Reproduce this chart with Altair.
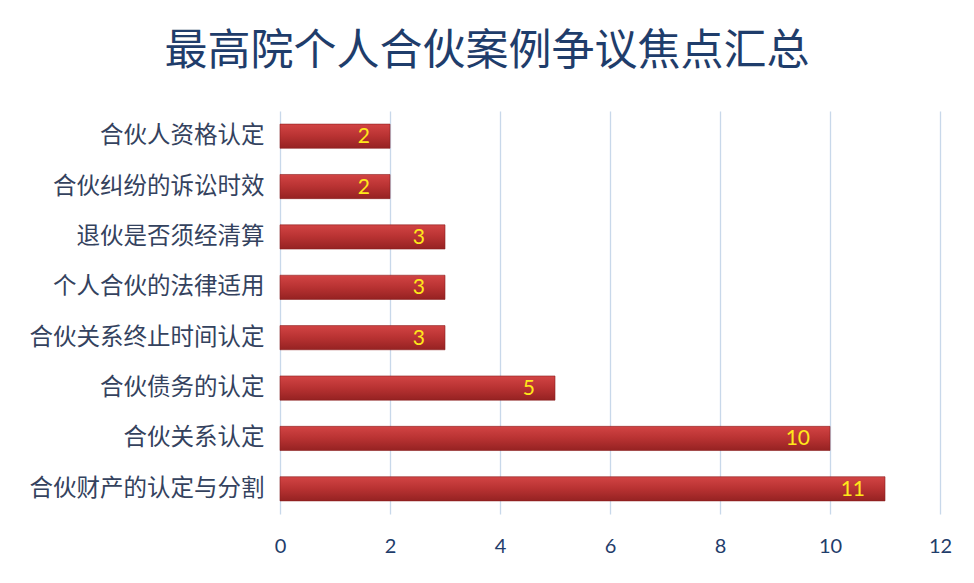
import altair as alt
import pandas as pd

categories = ["合伙人资格认定", "合伙纠纷的诉讼时效", "退伙是否须经清算", "个人合伙的法律适用",
              "合伙关系终止时间认定", "合伙债务的认定", "合伙关系认定", "合伙财产的认定与分割"]
values = [2, 2, 3, 3, 3, 5, 10, 11]
x_ticks = [0, 2, 4, 6, 8, 10, 12]
title_text = "最高院个人合伙案例争议焦点汇总"

df = pd.DataFrame({"cat": categories, "val": values})

y_enc = alt.Y("cat:N", sort=categories, title=None,
              scale=alt.Scale(paddingInner=0.52, paddingOuter=0.26),
              axis=alt.Axis(labelFont="Noto Sans CJK SC", labelFontSize=23.5, labelColor="#34425e",
                            labelLimit=0, labelPadding=16, ticks=False, domain=False, grid=False))
x_enc = alt.X("val:Q", title=None, scale=alt.Scale(domain=[0, 12], nice=False),
              axis=alt.Axis(values=x_ticks, format="d", labelFont="Lato", labelFontSize=20,
                            labelColor="#1f3d6b", labelPadding=22, labelFlush=False, ticks=False,
                            domain=False, grid=True, gridColor="#c8d8ea", gridWidth=1.3))

bars = alt.Chart(df).mark_bar(
    color=alt.Gradient(gradient="linear",
                       stops=[alt.GradientStop(color="#d24444", offset=0),
                              alt.GradientStop(color="#b83232", offset=0.5),
                              alt.GradientStop(color="#952222", offset=1)],
                       x1=0, x2=0, y1=0, y2=1),
    stroke="#8a1f1f", strokeWidth=0.6
).encode(x=x_enc, y=y_enc)

labels = alt.Chart(df).mark_text(
    align="right", baseline="middle", dx=-20, dy=1, font="Lato", fontSize=21, color="#ffe81a"
).encode(x="val:Q", y=alt.Y("cat:N", sort=categories), text="val:Q")

chart = alt.layer(bars, labels).properties(
    width=660, height=403,
    autosize=alt.AutoSizeParams(type="none"),
    padding={"left": 272, "top": 103, "right": 26, "bottom": 60},
    title=alt.TitleParams(title_text, font="Noto Sans CJK SC", fontSize=43, fontWeight="normal",
                          color="#1f3d6b", anchor="middle", dx=-123, offset=37),
    background="white"
).configure_view(stroke=None)

chart.save("out.html", embed_options={"renderer": "svg", "actions": False})
